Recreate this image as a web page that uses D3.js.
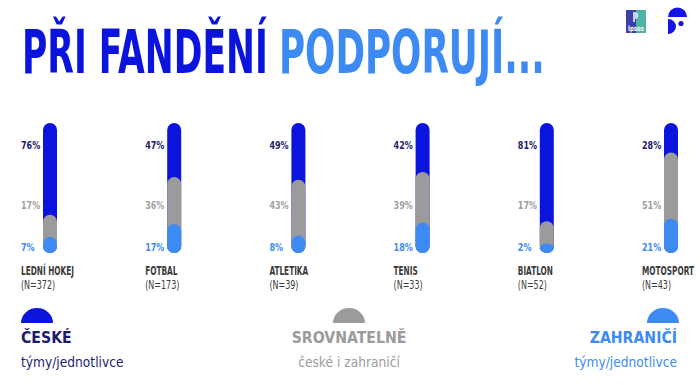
<!DOCTYPE html>
<html>
<head>
<meta charset="utf-8">
<script src="https://cdn.jsdelivr.net/npm/d3@7"></script>
<style>
  body { margin: 0; background: #fff; }
  svg { display: block; font-family: "DejaVu Sans Condensed", "DejaVu Sans", sans-serif; }
</style>
</head>
<body>
<div id="chart"></div>
<script>
// data
const sports = ["LEDNÍ HOKEJ", "FOTBAL", "ATLETIKA", "TENIS", "BIATLON", "MOTOSPORT"];
const sampleSizes = [372, 173, 39, 33, 52, 43];
const czech = [76, 47, 49, 42, 81, 28];       // české týmy/jednotlivce
const comparable = [17, 36, 43, 39, 17, 51];  // srovnatelně
const foreign = [7, 17, 8, 18, 2, 21];        // zahraniční týmy/jednotlivce

const legendTitles = ["ČESKÉ", "SROVNATELNĚ", "ZAHRANIČÍ"];
const legendSubs = ["týmy/jednotlivce", "české i zahraničí", "týmy/jednotlivce"];

// colours
const darkBlue = "#0b14dc";
const grey = "#9b9b9b";
const lightBlue = "#3d8bf2";
const navy = "#1c1c6e";

const width = 700;
const height = 385;

const svg = d3.select("#chart")
    .append("svg")
    .attr("width", width)
    .attr("height", height);

// squeezed text: the fonts we have are wider than the condensed original
function addText(parent, px, py, str, size, opts) {
    opts = opts || {};
    const t = parent.append("text")
        .attr("x", 0)
        .attr("y", 0)
        .attr("font-size", size)
        .attr("font-weight", opts.weight || "normal")
        .attr("text-anchor", opts.anchor || "start")
        .attr("fill", opts.fill || "#333")
        .text(str);
    let k = opts.k || 1;
    if (opts.fit) k = opts.fit / t.node().getComputedTextLength();
    t.attr("transform", `translate(${px},${py}) scale(${k},1)`);
    return t;
}

// title in two colours
addText(svg, 22, 73, "PŘI FANDĚNÍ", 60, {weight: "bold", fill: darkBlue, fit: 246});
addText(svg, 279, 73, "PODPORUJÍ...", 60, {weight: "bold", fill: lightBlue, fit: 266});

// logos top right
const ipsos = svg.append("g").attr("transform", "translate(626,10)");
ipsos.append("rect").attr("width", 10).attr("height", 23).attr("fill", "#3b3fa6");
ipsos.append("rect").attr("x", 10).attr("width", 10).attr("height", 23).attr("fill", "#4db3a6");
ipsos.append("path")
    .attr("d", "M9,2 a3.5,3.5 0 1,1 0,7 v3 h-2 v-10 z")
    .attr("fill", "#c9d3f5");
addText(ipsos, 10, 20.5, "Ipsos", 7.5, {weight: "bold", fill: "#fff", anchor: "middle", k: 0.8});

const fanda = svg.append("g").attr("transform", "translate(668,8)").attr("fill", "#1414e6");
fanda.append("path").attr("d", "M0,9 A9.5,9.5 0 0,1 19,9 Z");
fanda.append("path").attr("d", "M0,11 A8,7.5 0 0,1 0,26 Z");
fanda.append("circle").attr("cx", 13).attr("cy", 15.5).attr("r", 2.6);

// scales
const x = d3.scalePoint()
    .domain(sports)
    .range([21, 642]);

const y = d3.scaleLinear()
    .domain([0, 100])
    .range([253, 123]);

const barW = 14;
const r = barW / 2;
const barOffset = 22;

const rows = sports.map((s, i) => ({
    sport: s,
    n: sampleSizes[i],
    czech: czech[i],
    comparable: comparable[i],
    foreign: foreign[i]
}));

const groups = svg.selectAll("g.sport")
    .data(rows)
    .enter()
    .append("g")
    .attr("class", "sport")
    .attr("transform", d => `translate(${x(d.sport)},0)`);

// full bar = české
groups.append("rect")
    .attr("x", barOffset)
    .attr("y", y(100))
    .attr("width", barW)
    .attr("height", y(0) - y(100))
    .attr("rx", r)
    .attr("fill", darkBlue);

// srovnatelně stacked on zahraniční
groups.append("rect")
    .attr("x", barOffset)
    .attr("y", d => y(d.comparable + d.foreign) - r)
    .attr("width", barW)
    .attr("height", d => y(0) - y(d.comparable + d.foreign) + r)
    .attr("rx", r)
    .attr("fill", grey);

// zahraniční
groups.append("rect")
    .attr("x", barOffset)
    .attr("y", d => y(d.foreign) - r)
    .attr("width", barW)
    .attr("height", d => y(0) - y(d.foreign) + r)
    .attr("rx", r)
    .attr("fill", lightBlue);

// percent labels + sport names
const pct = [
    {key: "czech", y: 149, color: navy},
    {key: "comparable", y: 209, color: "#a0a0a0"},
    {key: "foreign", y: 251, color: lightBlue}
];

groups.each(function (d) {
    const g = d3.select(this);
    pct.forEach(p => {
        addText(g, 0, p.y, d[p.key] + "%", 10.5, {weight: "bold", fill: p.color, k: 0.85});
    });
    addText(g, 0, 275, d.sport, 12, {weight: "bold", fill: "#3a3a3a", k: 0.68});
    addText(g, 0, 289, `(N=${d.n})`, 12, {fill: "#3a3a3a", k: 0.74});
});

// legend
const legendColors = [darkBlue, grey, lightBlue];
const legendTextColors = [navy, "#9b9b9b", lightBlue];
const legendX = [21, 349, 677];
const legendAnchor = ["start", "middle", "end"];
const legendCapX = [37, 349, 663];

legendTitles.forEach((t, i) => {
    svg.append("path")
        .attr("d", `M${legendCapX[i] - 16},323 A16,15 0 0,1 ${legendCapX[i] + 16},323 Z`)
        .attr("fill", legendColors[i]);

    addText(svg, legendX[i], 343, t, 16, {weight: "bold", fill: legendTextColors[i], anchor: legendAnchor[i], k: 0.98});
    addText(svg, legendX[i], 367, legendSubs[i], 14.5, {fill: legendTextColors[i], anchor: legendAnchor[i], k: 0.94});
});
</script>
</body>
</html>
